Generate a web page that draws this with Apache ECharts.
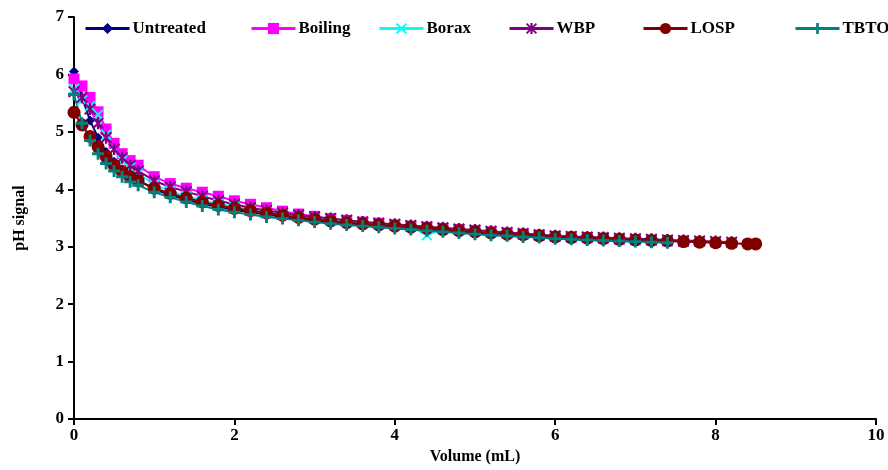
<!DOCTYPE html>
<html>
<head>
<meta charset="utf-8">
<script src="https://cdn.jsdelivr.net/npm/echarts@6/dist/echarts.min.js"></script>
<style>
  html, body { margin: 0; padding: 0; background: #fff; }
  #chart { width: 888px; height: 470px; }
</style>
</head>
<body>
<div id="chart"></div>
<script>
// volume (mL) readings shared by all series, null = no reading
const volume = [0, 0.1, 0.2, 0.3, 0.4, 0.5, 0.6, 0.7, 0.8, 1.0, 1.2, 1.4, 1.6, 1.8, 2.0, 2.2, 2.4, 2.6, 2.8, 3.0,
  3.2, 3.4, 3.6, 3.8, 4.0, 4.2, 4.4, 4.6, 4.8, 5.0, 5.2, 5.4, 5.6, 5.8, 6.0, 6.2, 6.4, 6.6, 6.8, 7.0,
  7.2, 7.4, 7.6, 7.8, 8.0, 8.2, 8.4, 8.5];

const untreated = [6.05, 5.6, 5.2, 4.9, 4.65, 4.48, 4.35, 4.25, 4.16, 4.0, 3.9, 3.82, 3.75, 3.69, 3.64, 3.6, 3.56, 3.52, 3.48, 3.45,
  3.42, 3.39, 3.37, 3.35, 3.33, 3.31, 3.29, 3.27, 3.25, 3.23, 3.21, 3.19, 3.18, 3.16, 3.14, 3.13, 3.12, 3.11, 3.1, 3.09,
  null, null, null, null, null, null, null, null];
const boiling = [5.92, 5.8, 5.6, 5.35, 5.05, 4.8, 4.62, 4.5, 4.42, 4.22, 4.1, 4.02, 3.95, 3.88, 3.8, 3.74, 3.68, 3.62, 3.57, 3.53,
  3.49, 3.46, 3.43, 3.41, 3.38, 3.36, 3.34, 3.32, 3.3, 3.28, 3.26, 3.24, 3.22, 3.2, 3.18, 3.17, 3.16, 3.15, 3.13, 3.12,
  3.11, 3.1, 3.09, null, null, null, null, null];
const borax = [5.75, 5.55, 5.45, 5.3, 4.95, 4.7, 4.5, 4.38, 4.28, 4.08, 3.97, 3.88, 3.81, 3.75, 3.7, 3.65, 3.61, 3.57, 3.53, 3.5,
  3.47, 3.44, 3.41, 3.39, 3.37, 3.35, 3.2, 3.31, 3.29, 3.27, 3.25, 3.23, 3.21, 3.2, 3.18, 3.17, 3.16, 3.14, 3.13, 3.12,
  3.11, 3.1, 3.09, 3.08, null, null, null, null];
const wbp = [5.7, 5.6, 5.4, 5.15, 4.9, 4.7, 4.55, 4.42, 4.32, 4.15, 4.04, 3.96, 3.88, 3.8, 3.74, 3.68, 3.63, 3.59, 3.55, 3.52,
  3.49, 3.46, 3.43, 3.41, 3.39, 3.37, 3.35, 3.33, 3.31, 3.29, 3.27, 3.25, 3.23, 3.21, 3.19, 3.18, 3.17, 3.16, 3.15, 3.14,
  3.13, 3.12, 3.11, 3.1, 3.09, 3.08, null, null];
const losp = [5.34, 5.12, 4.92, 4.74, 4.57, 4.42, 4.31, 4.22, 4.15, 4.02, 3.93, 3.85, 3.78, 3.72, 3.67, 3.63, 3.59, 3.55, 3.51, 3.48,
  3.45, 3.42, 3.4, 3.38, 3.36, 3.34, 3.32, 3.3, 3.28, 3.26, 3.24, 3.22, 3.21, 3.19, 3.17, 3.16, 3.15, 3.14, 3.13, 3.12,
  3.11, 3.1, 3.09, 3.08, 3.07, 3.06, 3.05, 3.05];
const tbto = [5.65, 5.15, 4.85, 4.62, 4.45, 4.32, 4.22, 4.13, 4.07, 3.95, 3.86, 3.78, 3.71, 3.65, 3.6, 3.56, 3.52, 3.49, 3.46, 3.43,
  3.4, 3.38, 3.36, 3.34, 3.32, 3.3, 3.28, 3.26, 3.24, 3.22, 3.2, 3.19, 3.17, 3.16, 3.14, 3.13, 3.12, 3.11, 3.1, 3.09,
  3.08, 3.07, null, null, null, null, null, null];

const xTicks = [0, 2, 4, 6, 8, 10];
const yTicks = [0, 1, 2, 3, 4, 5, 6, 7];

const font = 'Liberation Serif';
const plusPath = 'path://M3.8,0H6.2V3.8H10V6.2H6.2V10H3.8V6.2H0V3.8H3.8Z';
const crossPath = 'path://M0,1.2L1.2,0L5,3.8L8.8,0L10,1.2L6.2,5L10,8.8L8.8,10L5,6.2L1.2,10L0,8.8L3.8,5Z';
const starPath = 'path://M0,1.2L1.2,0L5,3.8L8.8,0L10,1.2L6.2,5L10,8.8L8.8,10L5,6.2L1.2,10L0,8.8L3.8,5ZM4,0H6V10H4Z';

const seriesDefs = [
  { name: 'Untreated', values: untreated, color: '#000080', symbol: 'diamond', size: 10, legendLeft: 84 },
  { name: 'Boiling', values: boiling, color: '#ff00ff', symbol: 'rect', size: 11, legendLeft: 250 },
  { name: 'Borax', values: borax, color: '#00ffff', symbol: crossPath, size: 11, legendLeft: 378 },
  { name: 'WBP', values: wbp, color: '#800080', symbol: starPath, size: 12, legendLeft: 508 },
  { name: 'LOSP', values: losp, color: '#800000', symbol: 'circle', size: 13, legendLeft: 642 },
  { name: 'TBTO', values: tbto, color: '#008080', symbol: plusPath, size: 12, legendLeft: 794 }
];

const toPairs = vals => volume.map((v, i) => [v, vals[i]]).filter(p => p[1] != null);

const chart = echarts.init(document.getElementById('chart'));
chart.setOption({
  animation: false,
  backgroundColor: '#fff',
  grid: { left: 74, right: 12, top: 17, bottom: 49 },
  legend: seriesDefs.map(s => ({
    data: [s.name],
    left: s.legendLeft,
    top: 20,
    padding: 0,
    itemWidth: 44,
    itemHeight: 14,
    itemGap: 3,
    lineStyle: { width: 3 },
    textStyle: { fontFamily: font, fontWeight: 'bold', fontSize: 17, color: '#000', padding: [0, 0, 0, -2] }
  })),
  xAxis: {
    type: 'value',
    min: 0,
    max: 10,
    interval: 2,
    name: 'Volume (mL)',
    nameLocation: 'middle',
    nameGap: 28,
    nameTextStyle: { fontFamily: font, fontWeight: 'bold', fontSize: 16, color: '#000' },
    axisLine: { lineStyle: { color: '#000', width: 2 } },
    axisTick: { length: 6, lineStyle: { color: '#000', width: 2 } },
    axisLabel: {
      fontFamily: font, fontWeight: 'bold', fontSize: 17, color: '#000', margin: 8,
      formatter: v => (xTicks.includes(v) ? String(v) : '')
    },
    splitLine: { show: false }
  },
  yAxis: {
    type: 'value',
    min: 0,
    max: 7,
    interval: 1,
    name: 'pH signal',
    nameLocation: 'middle',
    nameRotate: 90,
    nameGap: 46,
    nameTextStyle: { fontFamily: font, fontWeight: 'bold', fontSize: 16, color: '#000' },
    axisLine: { show: true, lineStyle: { color: '#000', width: 2 } },
    axisTick: { show: true, length: 6, lineStyle: { color: '#000', width: 2 } },
    axisLabel: {
      fontFamily: font, fontWeight: 'bold', fontSize: 17, color: '#000', margin: 10,
      formatter: v => (yTicks.includes(v) ? String(v) : '')
    },
    splitLine: { show: false }
  },
  series: seriesDefs.map(s => ({
    name: s.name,
    type: 'line',
    data: toPairs(s.values),
    symbol: s.symbol,
    symbolSize: s.size,
    showAllSymbol: true,
    color: s.color,
    lineStyle: { color: s.color, width: 2 },
    itemStyle: { color: s.color, borderWidth: 0 }
  }))
});
</script>
</body>
</html>
